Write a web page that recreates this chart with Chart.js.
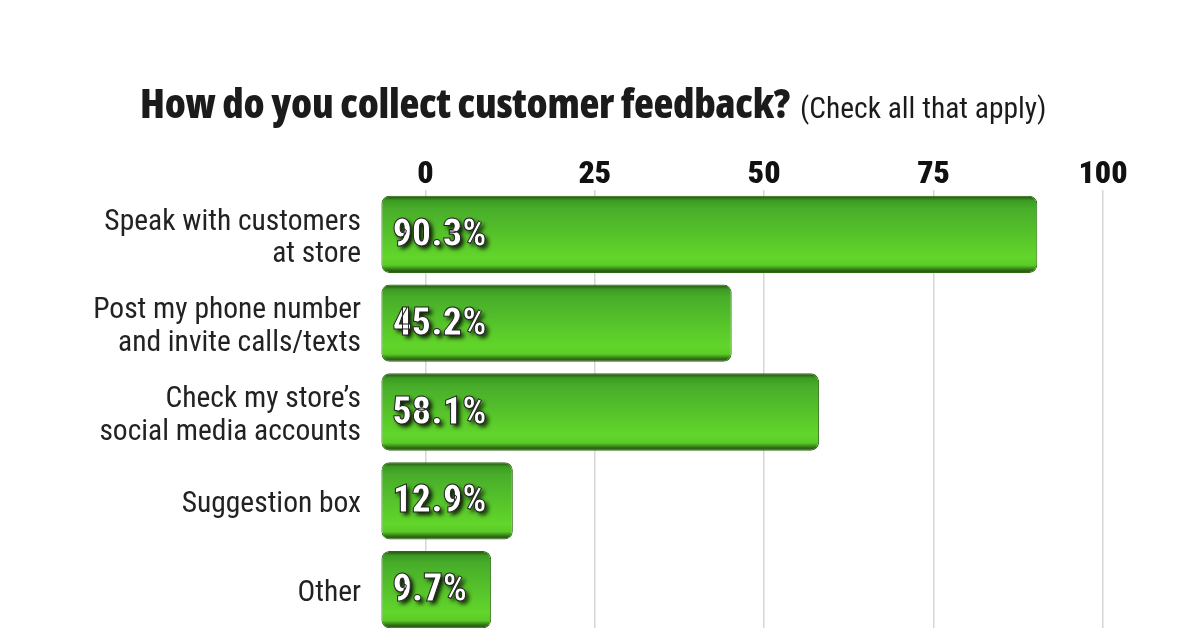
<!DOCTYPE html>
<html>
<head>
<meta charset="utf-8">
<script src="https://cdn.jsdelivr.net/npm/chart.js@4"></script>
<style>
  html, body { margin: 0; padding: 0; background: #fff; overflow: hidden; }
  #wrap { position: relative; width: 1200px; height: 640px; }
  #title { position: absolute; left: 140px; top: 74px; white-space: nowrap; color: #1b1b1b; }
  #title b { font-family: 'Open Sans', sans-serif; font-stretch: condensed; font-size: 41px; font-weight: 800; letter-spacing: -0.3px; }
  #title span { font-family: 'Roboto Condensed', sans-serif; font-size: 29.5px; font-weight: normal; margin-left: 10px; }
</style>
</head>
<body>
<div id="wrap">
  <canvas id="chart" width="1200" height="640"></canvas>
  <div id="title"><b>How do you collect customer feedback?</b><span>(Check all that apply)</span></div>
</div>
<script>
// Data
const categories = [
  ['Speak with customers', 'at store'],
  ['Post my phone number', 'and invite calls/texts'],
  ['Check my store’s', 'social media accounts'],
  'Suggestion box',
  'Other'
];
const shares = [90.3, 45.2, 58.1, 12.9, 9.7];
const valueLabels = ['90.3%', '45.2%', '58.1%', '12.9%', '9.7%'];
const xTicks = [0, 25, 50, 75, 100];

// vertical shading for each bar, based on the category scale
function barFill(c) {
  const chart = c.chart;
  const y = chart.scales.y;
  if (!y || c.type !== 'data') return '#52b526';
  const mid = y.getPixelForValue(c.dataIndex);
  const half = Math.abs(y.getPixelForValue(1) - y.getPixelForValue(0)) * 0.87 / 2;
  if (!isFinite(mid) || !isFinite(half) || half === 0) return '#52b526';
  const g = chart.ctx.createLinearGradient(0, mid - half, 0, mid + half);
  g.addColorStop(0, '#1f4a0a');
  g.addColorStop(0.06, '#3c9a22');
  g.addColorStop(0.16, '#48ad2a');
  g.addColorStop(0.8, '#62d62a');
  g.addColorStop(0.9, '#5acb27');
  g.addColorStop(0.96, '#2f6e14');
  g.addColorStop(1, '#244f0e');
  return g;
}

// percent labels inside the bars
const valueLabelPlugin = {
  id: 'valueLabels',
  afterDatasetsDraw(chart) {
    const ctx = chart.ctx;
    const meta = chart.getDatasetMeta(0);
    ctx.save();
    ctx.font = '900 38px "Roboto Condensed"';
    ctx.textBaseline = 'middle';
    ctx.textAlign = 'left';
    meta.data.forEach((bar, i) => {
      ctx.shadowColor = 'rgba(0,0,0,0.9)';
      ctx.shadowOffsetX = 3;
      ctx.shadowOffsetY = 3;
      ctx.shadowBlur = 4;
      ctx.fillStyle = '#fff';
      ctx.fillText(valueLabels[i], bar.base + 11, bar.y + 2);
      ctx.shadowColor = 'transparent';
      ctx.lineWidth = 1;
      ctx.strokeStyle = '#222';
      ctx.strokeText(valueLabels[i], bar.base + 11, bar.y + 2);
    });
    ctx.restore();
  }
};

new Chart(document.getElementById('chart'), {
  type: 'bar',
  data: {
    labels: categories,
    datasets: [{
      data: shares,
      base: -6.5,
      backgroundColor: barFill,
      borderColor: '#2e6a12',
      borderWidth: 1,
      borderRadius: 8,
      borderSkipped: false,
      barPercentage: 0.87,
      categoryPercentage: 1
    }]
  },
  options: {
    indexAxis: 'y',
    responsive: false,
    animation: false,
    devicePixelRatio: 1,
    layout: { padding: { top: 152, right: 97, bottom: 6, left: 0 } },
    plugins: {
      legend: { display: false },
      tooltip: { enabled: false }
    },
    scales: {
      x: {
        position: 'top',
        min: -7,
        max: 100,
        afterBuildTicks: s => { s.ticks = xTicks.map(v => ({ value: v })); },
        afterFit: s => { s.height = 38; },
        grid: { color: '#d6d6d6', lineWidth: 1.5, drawTicks: false },
        border: { display: false },
        ticks: {
          padding: -4,
          color: '#111',
          font: { family: 'Roboto Condensed', size: 32, weight: 900 }
        }
      },
      y: {
        afterFit: s => { s.width = 378; s.paddingTop = 0; s.paddingBottom = 0; },
        grid: { display: false },
        border: { display: false },
        ticks: {
          padding: 9,
          labelOffset: 4,
          color: '#222',
          font: { family: 'Roboto Condensed', size: 29.5, lineHeight: 1.1 }
        }
      }
    }
  },
  plugins: [valueLabelPlugin]
});
</script>
</body>
</html>
